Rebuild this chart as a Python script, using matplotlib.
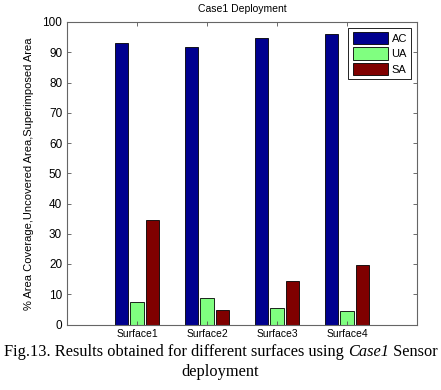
import numpy as np
import matplotlib
matplotlib.use('Agg')
import matplotlib.pyplot as plt

plt.rcParams['font.family'] = ['Liberation Sans', 'DejaVu Sans']

# 표면별 결과 (Case1 배치)
surfaces = ['Surface1', 'Surface2', 'Surface3', 'Surface4']
ac = [93.2, 91.6, 94.6, 96.1]   # Area Coverage
ua = [7.3, 8.7, 5.6, 4.4]       # Uncovered Area
sa = [34.5, 4.7, 14.3, 19.6]    # Superimposed Area
series_names = ['AC', 'UA', 'SA']
colors = ['#00008F', '#80FF80', '#800000']

fig = plt.figure(figsize=(4.41, 3.90), dpi=100)
ax = fig.add_axes([67 / 441, 1 - 324.5 / 390, 350 / 441, 302.5 / 390])

x = np.arange(1, len(surfaces) + 1)
w = 0.19
offsets = [-0.225, 0.0, 0.225]
for vals, off, c, name in zip([ac, ua, sa], offsets, colors, series_names):
    ax.bar(x + off, vals, width=w, color=c, edgecolor='black', linewidth=0.6, label=name)

ax.set_xlim(0, 5)
ax.set_ylim(0, 100)
ax.set_xticks(x)
ax.set_xticklabels(surfaces, fontsize=7.5)
ax.set_yticks(range(0, 101, 10))
ax.tick_params(axis='y', labelsize=8.5)
ax.tick_params(direction='in', top=True, right=True, length=3, width=0.6, color='#555555')
for s in ax.spines.values():
    s.set_color('#666666')
    s.set_linewidth(0.8)

ax.set_title('Case1 Deployment', fontsize=7.5, pad=7)
ax.set_ylabel('% Area Coverage,Uncovered Area,Superimposed Area', fontsize=8, labelpad=6)

leg = ax.legend(loc='upper right', fontsize=8, handlelength=3.2, handleheight=1.3,
                fancybox=False, edgecolor='black', framealpha=1,
                borderaxespad=0.5, handletextpad=0.3, labelspacing=0.3, borderpad=0.4)
leg.get_frame().set_linewidth(0.6)

# 그림 캡션: 이탤릭 부분만 따로 그려서 이어 붙임
cap_parts = [('Fig.13. Results obtained for different surfaces using ', 'normal'),
             ('Case1', 'italic'),
             (' Sensor', 'normal')]
fs = 11.8
y1 = 1 - 352 / 390
renderer = fig.canvas.get_renderer()
texts = []
for s, style in cap_parts:
    t = fig.text(0, y1, s, ha='left', va='center', fontsize=fs,
                 family='Liberation Serif', style=style)
    texts.append(t)
widths = [t.get_window_extent(renderer).width for t in texts]
W = fig.bbox.width
xpos = (W - sum(widths)) / 2
for t, wd in zip(texts, widths):
    t.set_x(xpos / W)
    xpos += wd
fig.text(0.5, 1 - 372 / 390, 'deployment', ha='center', va='center',
         fontsize=fs, family='Liberation Serif')

fig.savefig('out.png', dpi=100)
